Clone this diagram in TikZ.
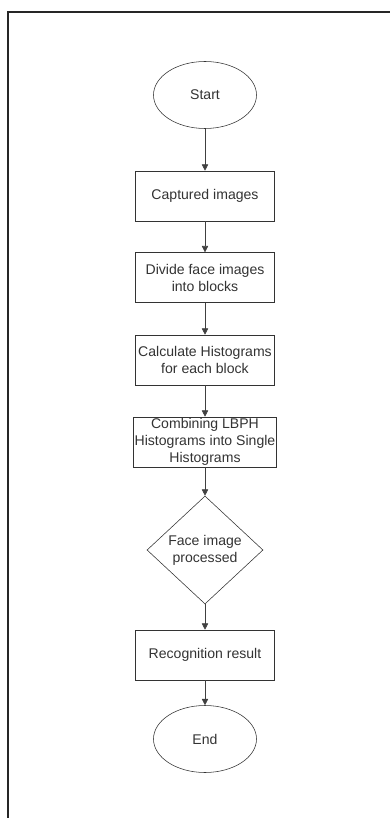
\documentclass[tikz,border=0pt]{standalone}
\usepackage{fontspec}
\setmainfont{Liberation Sans}
\usetikzlibrary{positioning, arrows.meta, shapes, shapes.geometric}

\begin{document}
\begin{tikzpicture}[
        every node/.style={font=\fontsize{10}{12}\selectfont, text=black!80},
        terminal/.style={ellipse, draw=black!80, minimum width=2.575cm, minimum height=1.675cm, inner sep=0pt},
        process/.style={rectangle, draw=black!80, minimum width=3.475cm, minimum height=1.25cm, align=center, inner sep=1pt},
        decision/.style={diamond, draw=black!80, minimum width=2.9cm, minimum height=2.7cm, align=center, inner sep=0pt},
        flow/.style={draw=black!75, -{Triangle[width=4.5pt,length=4.5pt]}}
    ]
        \useasboundingbox (0,0) rectangle (9.75,-20.45);
        \draw[black!85, line width=0.8pt] (0.2,-20.45) -- (0.2,-0.3) -- (9.75,-0.3);

        \node[terminal] (start) at (5.125,-2.375) {Start};
        \node[process] (captured) at (5.125,-4.9) {Captured images};
        \node[process] (divide) at (5.125,-6.94) {Divide face images\\into blocks};
        \node[process] (calc) at (5.125,-9.0) {Calculate Histograms\\for each block};
        \node[process] (combine) at (5.125,-11.05) {Combining LBPH\\Histograms into Single\\Histograms};
        \node[decision] (processed) at (5.125,-13.75) {Face image\\processed};
        \node[process] (result) at (5.125,-16.375) {Recognition result};
        \node[terminal] (end) at (5.125,-18.475) {End};

        \draw[flow] (start) -- (captured);
        \draw[flow] (captured) -- (divide);
        \draw[flow] (divide) -- (calc);
        \draw[flow] (calc) -- (combine);
        \draw[flow] (combine) -- (processed);
        \draw[flow] (processed) -- (result);
        \draw[flow] (result) -- (end);
\end{tikzpicture}
\end{document}
